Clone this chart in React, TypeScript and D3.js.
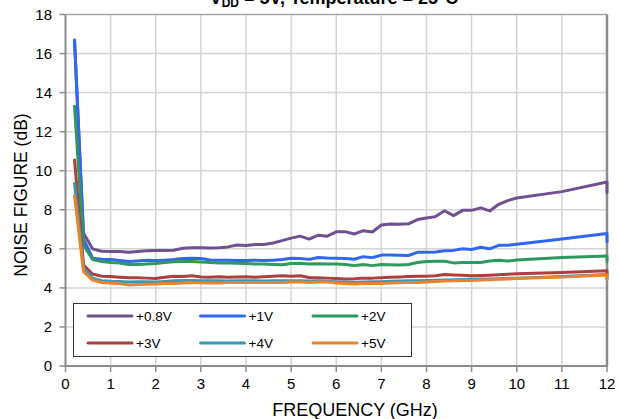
import React from "react";
import * as d3 from "d3";

const freqs = [
  0.2, 0.4, 0.6, 0.8, 1.0, 1.2, 1.4, 1.6, 1.8, 2.0,
  2.2, 2.4, 2.6, 2.8, 3.0, 3.2, 3.4, 3.6, 3.8, 4.0,
  4.2, 4.4, 4.6, 4.8, 5.0, 5.2, 5.4, 5.6, 5.8, 6.0,
  6.2, 6.4, 6.6, 6.8, 7.0, 7.2, 7.4, 7.6, 7.8, 8.0,
  8.2, 8.4, 8.6, 8.8, 9.0, 9.2, 9.4, 9.6, 9.8, 10.0,
  11.0, 12.0, 12.0,
];

const nf08 = [
  16.7, 6.8, 6.0, 5.88, 5.86, 5.86, 5.82, 5.86, 5.9, 5.92,
  5.92, 5.93, 6.03, 6.05, 6.05, 6.04, 6.06, 6.1, 6.2, 6.17,
  6.22, 6.22, 6.3, 6.42, 6.55, 6.65, 6.5, 6.7, 6.65, 6.87,
  6.88, 6.76, 6.93, 6.86, 7.22, 7.27, 7.26, 7.28, 7.5, 7.58,
  7.65, 7.95, 7.7, 7.97, 7.97, 8.1, 7.94, 8.28, 8.47, 8.6,
  8.93, 9.42, 8.88,
];
const nf1 = [
  16.65, 6.5, 5.52, 5.47, 5.45, 5.4, 5.35, 5.38, 5.42, 5.4,
  5.42, 5.45, 5.5, 5.52, 5.5, 5.43, 5.42, 5.42, 5.4, 5.4,
  5.42, 5.4, 5.42, 5.45, 5.52, 5.5, 5.46, 5.56, 5.53, 5.52,
  5.5, 5.47, 5.6, 5.55, 5.68, 5.68, 5.67, 5.66, 5.82, 5.83,
  5.84, 5.9, 5.92, 6.0, 5.97, 6.08, 6.0, 6.18, 6.18, 6.23,
  6.5, 6.78, 6.36,
];
const nf2 = [
  13.3, 6.2, 5.45, 5.35, 5.3, 5.27, 5.2, 5.2, 5.22, 5.25,
  5.3, 5.34, 5.35, 5.35, 5.33, 5.3, 5.28, 5.27, 5.26, 5.25,
  5.22, 5.22, 5.2, 5.18, 5.25, 5.26, 5.22, 5.24, 5.22, 5.22,
  5.2, 5.14, 5.2, 5.14, 5.2, 5.18, 5.17, 5.2, 5.3, 5.35,
  5.36, 5.36, 5.28, 5.3, 5.3, 5.3, 5.38, 5.42, 5.38, 5.43,
  5.55, 5.63, 5.37,
];
const nf3 = [
  10.55, 5.17, 4.71, 4.6, 4.58, 4.55, 4.52, 4.52, 4.5, 4.48,
  4.55, 4.6, 4.58, 4.62, 4.56, 4.55, 4.57, 4.55, 4.56, 4.57,
  4.55, 4.57, 4.6, 4.62, 4.6, 4.62, 4.53, 4.52, 4.5, 4.48,
  4.46, 4.47, 4.5, 4.5, 4.52, 4.55, 4.56, 4.58, 4.6, 4.6,
  4.62, 4.68, 4.66, 4.65, 4.62, 4.63, 4.65, 4.67, 4.7, 4.72,
  4.79, 4.88, 4.69,
];
const nf4 = [
  9.35, 5.0, 4.5, 4.37, 4.34, 4.33, 4.3, 4.32, 4.32, 4.3,
  4.33, 4.36, 4.38, 4.38, 4.37, 4.36, 4.36, 4.35, 4.36, 4.37,
  4.36, 4.35, 4.36, 4.37, 4.37, 4.36, 4.35, 4.36, 4.34, 4.32,
  4.3, 4.29, 4.3, 4.31, 4.32, 4.34, 4.35, 4.36, 4.37, 4.38,
  4.39, 4.41, 4.42, 4.43, 4.44, 4.45, 4.46, 4.47, 4.49, 4.5,
  4.58, 4.68, 4.46,
];
const nf5 = [
  8.7, 4.83, 4.4, 4.27, 4.25, 4.23, 4.15, 4.17, 4.18, 4.2,
  4.22, 4.23, 4.25, 4.27, 4.26, 4.25, 4.25, 4.27, 4.28, 4.27,
  4.28, 4.28, 4.27, 4.28, 4.3, 4.3, 4.28, 4.3, 4.3, 4.25,
  4.22, 4.2, 4.22, 4.22, 4.22, 4.25, 4.26, 4.27, 4.28, 4.3,
  4.33, 4.35, 4.37, 4.38, 4.38, 4.4, 4.42, 4.44, 4.46, 4.48,
  4.56, 4.66, 4.44,
];

const seriesNames = ["+0.8V", "+1V", "+2V", "+3V", "+4V", "+5V"];
const seriesValues = [nf08, nf1, nf2, nf3, nf4, nf5];
const seriesColors = ["#6F5192", "#2F66F6", "#2E9860", "#AD403E", "#3699B6", "#E8832F"];

const xTicks = [0, 1, 2, 3, 4, 5, 6, 7, 8, 9, 10, 11, 12];
const yTicks = [0, 2, 4, 6, 8, 10, 12, 14, 16, 18];

const titleText = "Temperature";
const xTitle = "FREQUENCY (GHz)";
const yTitle = "NOISE FIGURE (dB)";

const W = 618;
const H = 419;
const left = 65.5;
const right = 607;
const top = 14.5;
const bottom = 366;
const font = "'Liberation Sans', Arial, sans-serif";

export default function App() {
  const x = d3.scaleLinear().domain([0, 12]).range([left, right]);
  const y = d3.scaleLinear().domain([0, 18]).range([bottom, top]);
  const line = d3
    .line<[number, number]>()
    .x((d) => x(d[0]))
    .y((d) => y(d[1]));

  const legendX0 = 88;
  const legendColW = 112.5;
  const legendY0 = 316;
  const legendRowH = 27;

  return (
    <svg
      width={W}
      height={H}
      style={{ position: "absolute", left: 0, top: 0, background: "#fff" }}
      fontFamily={font}
    >
      <rect x={0} y={0} width={W} height={H} fill="#fff" />
      {/* title, mostly cut off at the top as in the reference */}
      <text x={334} y={4} fontSize={18} fontWeight="bold" fill="#000" textAnchor="middle">
        V<tspan fontSize={12} dy={3}>DD</tspan>
        <tspan dy={-3}>{"  =  5V, " + titleText + "  =  25°C"}</tspan>
      </text>

      {/* grid */}
      {xTicks.slice(1, -1).map((t) => (
        <line key={"gx" + t} x1={x(t)} x2={x(t)} y1={top} y2={bottom} stroke="#D4D4D4" strokeWidth={1.5} />
      ))}
      {yTicks.slice(1, -1).map((t) => (
        <line key={"gy" + t} x1={left} x2={right} y1={y(t)} y2={y(t)} stroke="#D4D4D4" strokeWidth={1.5} />
      ))}
      <line x1={left} x2={right} y1={top} y2={top} stroke="#A6A6A6" strokeWidth={1.5} />
      <line x1={right} x2={right} y1={top} y2={bottom} stroke="#8C8C8C" strokeWidth={2.5} />

      {/* series */}
      {seriesValues.map((vals, i) => {
        const pts: [number, number][] = freqs.map((f, j) => [f, vals[j]]);
        return (
          <path
            key={seriesNames[i]}
            d={line(pts) || ""}
            fill="none"
            stroke={seriesColors[i]}
            strokeWidth={3}
            strokeLinejoin="round"
            strokeLinecap="round"
          />
        );
      })}

      {/* axes */}
      <line x1={left} x2={left} y1={top} y2={bottom + 1} stroke="#8C8C8C" strokeWidth={2} />
      <line x1={left - 1} x2={right + 1} y1={bottom} y2={bottom} stroke="#8C8C8C" strokeWidth={2} />
      {yTicks.map((t) => (
        <g key={"yt" + t}>
          <line x1={left - 6} x2={left} y1={y(t)} y2={y(t)} stroke="#8C8C8C" strokeWidth={1.5} />
          <text x={52} y={y(t)} dy="0.36em" textAnchor="end" fontSize={15} fill="#000">
            {t}
          </text>
        </g>
      ))}
      {xTicks.map((t) => (
        <g key={"xt" + t}>
          <line x1={x(t)} x2={x(t)} y1={bottom} y2={bottom + 6} stroke="#8C8C8C" strokeWidth={1.5} />
          <text x={x(t)} y={389} textAnchor="middle" fontSize={15} fill="#000">
            {t}
          </text>
        </g>
      ))}

      <text x={355} y={416} textAnchor="middle" fontSize={18} fill="#000">
        {xTitle}
      </text>
      <text
        transform={`translate(26.5, 195) rotate(-90)`}
        textAnchor="middle"
        fontSize={17.5}
        fill="#000"
      >
        {yTitle}
      </text>

      {/* legend */}
      <rect x={73.5} y={303.5} width={338} height={53} fill="#fff" stroke="#333" strokeWidth={1} />
      {seriesNames.map((name, i) => {
        const col = i % 3;
        const row = Math.floor(i / 3);
        const lx = legendX0 + col * legendColW;
        const ly = legendY0 + row * legendRowH;
        return (
          <g key={"lg" + name}>
            <line x1={lx} x2={lx + 44} y1={ly} y2={ly} stroke={seriesColors[i]} strokeWidth={3} strokeLinecap="round" />
            <text x={lx + 48} y={ly} dy="0.35em" fontSize={13.5} fill="#000">
              {name}
            </text>
          </g>
        );
      })}
    </svg>
  );
}
